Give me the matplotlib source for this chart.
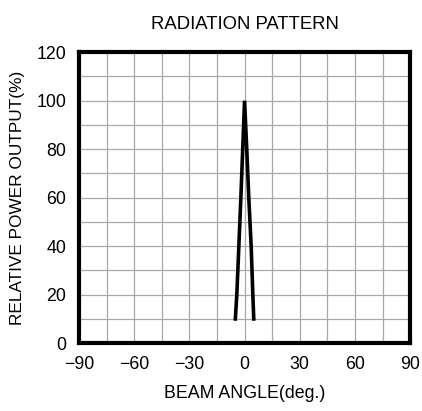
import numpy as np
import matplotlib
matplotlib.use("Agg")
import matplotlib.pyplot as plt

plt.rcParams['font.family'] = ['Liberation Sans', 'DejaVu Sans']

# ---------- data ----------
angle = [-5.0, -4.2, -3.1, -2.0, -1.0, 0.0, 1.2, 2.3, 3.6, 4.5, 5.0]
power = [10, 20, 40, 60, 80, 100, 80, 60, 40, 20, 10]

x_ticks = [-90, -60, -30, 0, 30, 60, 90]
y_ticks = [0, 20, 40, 60, 80, 100, 120]

fig = plt.figure(figsize=(4.22, 4.11), dpi=100)
ax = fig.add_axes([0.187, 0.165, 0.785, 0.708])

ax.plot(angle, power, color="black", lw=2.6, solid_joinstyle="miter")

ax.set_xlim(-90, 90)
ax.set_ylim(0, 120)
ax.set_xticks(x_ticks)
ax.set_yticks(y_ticks)
ax.set_xticks(np.arange(-90, 91, 15), minor=True)
ax.set_yticks(np.arange(0, 121, 10), minor=True)
ax.grid(which="both", color="#a8a8a8", lw=0.9)
ax.set_axisbelow(True)
ax.tick_params(which="both", length=0, labelsize=12.8, pad=9)
ax.set_xticklabels(["\u221290", "\u221260", "\u221230", "0", "30", "60", "90"])

for sp in ax.spines.values():
    sp.set_linewidth(3)
    sp.set_color("black")

ax.set_title("RADIATION PATTERN", fontsize=13.3, pad=17)
ax.set_xlabel("BEAM ANGLE(deg.)", fontsize=12.8, labelpad=9)
ax.set_ylabel("RELATIVE POWER OUTPUT(%)", fontsize=12.4, labelpad=8)

fig.savefig("out.png", dpi=100)
